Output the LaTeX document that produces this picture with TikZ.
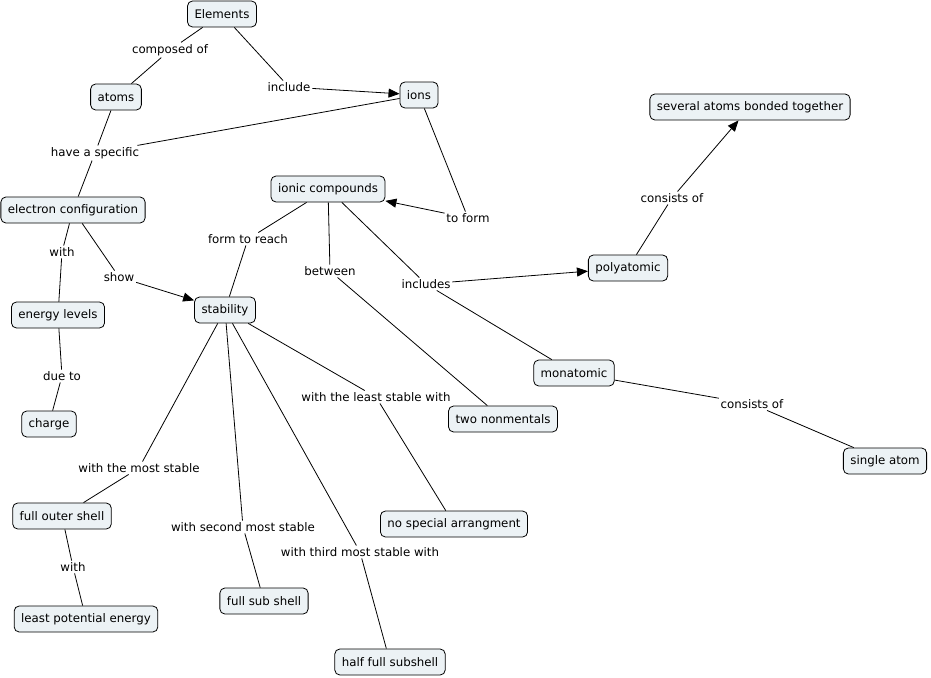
\documentclass[tikz,border=0pt]{standalone}
\usepackage{fontspec}
\setmainfont{DejaVu Sans}
\usetikzlibrary{arrows.meta}
\definecolor{cfill}{RGB}{236,242,245}

\begin{document}
\begin{tikzpicture}[x=1pt,y=-1pt,line width=0.8pt,>={Triangle[length=11pt,width=9pt]},
  font=\fontsize{11.8}{13}\selectfont,
  concept/.style={draw,rounded corners=5pt,fill=cfill,inner xsep=7pt,minimum height=26pt},
  link/.style={fill=white,inner sep=1.5pt}]
  \useasboundingbox (0,0) rectangle (931,677);
  % conceptos
  \node[concept] (elements) at (222,14) {Elements};
  \node[concept] (atoms) at (116,97) {atoms};
  \node[concept] (ions) at (419,95) {ions};
  \node[concept] (ionic) at (328,189) {ionic compounds};
  \node[concept] (econf) at (73,210) {electron configuration};
  \node[concept] (several) at (750,107) {several atoms bonded together};
  \node[concept] (poly) at (628,268) {polyatomic};
  \node[concept] (energy) at (58,315) {energy levels};
  \node[concept] (stab) at (225,310) {stability};
  \node[concept] (mono) at (574,373) {monatomic};
  \node[concept] (twonon) at (503,419) {two nonmentals};
  \node[concept] (charge) at (49,424) {charge};
  \node[concept] (single) at (885,461) {single atom};
  \node[concept] (fullouter) at (62,516) {full outer shell};
  \node[concept] (nospecial) at (454,524) {no special arrangment};
  \node[concept] (fullsub) at (264,601) {full sub shell};
  \node[concept] (leastpot) at (86,619) {least potential energy};
  \node[concept] (halffull) at (390,662) {half full subshell};
  % frases de enlace
  \node[link] (composed) at (170,50) {composed of};
  \node[link] (include) at (289,87) {include};
  \node[link] (specific) at (95,153) {have a specific};
  \node[link] (toform) at (468,218) {to form};
  \node[link] (with1) at (62,252) {with};
  \node[link] (show) at (119,277) {show};
  \node[link] (reach) at (248,239) {form to reach};
  \node[link] (between) at (330,271) {between};
  \node[link] (includes) at (426,284) {includes};
  \node[link] (consists1) at (672,198) {consists of};
  \node[link] (dueto) at (62,376) {due to};
  \node[link] (least) at (376,397) {with the least stable with};
  \node[link] (consists2) at (752,404) {consists of};
  \node[link] (most) at (139,468) {with the most stable};
  \node[link] (second) at (243,527) {with second most stable};
  \node[link] (third) at (360,552) {with third most stable with};
  \node[link] (with2) at (73,567) {with};
  % conexiones
  \draw (elements)--(composed)--(atoms);
  \draw (elements)--(include); \draw[->] (include)--(ions);
  \draw (atoms)--(specific)--(econf);
  \draw (ions)--(specific);
  \draw (ions)--(toform); \draw[->] (toform)--(ionic);
  \draw (econf)--(with1)--(energy);
  \draw (econf)--(show); \draw[->] (show)--(stab);
  \draw (ionic)--(reach)--(stab);
  \draw (ionic)--(between)--(twonon);
  \draw (ionic)--(includes)--(mono); \draw[->] (includes)--(poly);
  \draw (poly)--(consists1); \draw[->] (consists1)--(several);
  \draw (mono)--(consists2)--(single);
  \draw (energy)--(dueto)--(charge);
  \draw (stab)--(most)--(fullouter);
  \draw (stab)--(second)--(fullsub);
  \draw (stab)--(third)--(halffull);
  \draw (stab)--(least)--(nospecial);
  \draw (fullouter)--(with2)--(leastpot);
\end{tikzpicture}
\end{document}
